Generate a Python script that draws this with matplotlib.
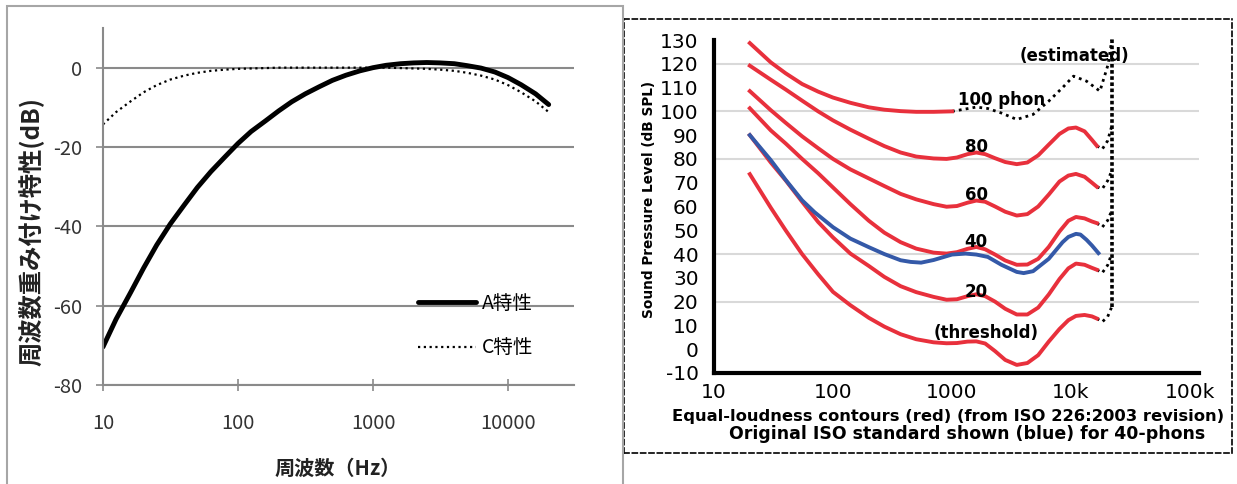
import matplotlib
matplotlib.use("Agg")
import matplotlib.pyplot as plt
from matplotlib.patches import Rectangle
from matplotlib.ticker import NullLocator

plt.rcParams['font.family'] = ['Noto Sans CJK JP', 'DejaVu Sans']

# ---- left chart: A / C frequency weighting (dB) ----
freq_w = [10, 12.5, 16, 20, 25, 31.5, 40, 50, 63, 80, 100, 125, 160, 200, 250, 315, 400, 500, 630, 800,
          1000, 1250, 1600, 2000, 2500, 3150, 4000, 5000, 6300, 8000, 10000, 12500, 16000, 20000]
a_weight = [-70.4, -63.4, -56.7, -50.5, -44.7, -39.4, -34.6, -30.2, -26.2, -22.5,
            -19.1, -16.1, -13.4, -10.9, -8.6, -6.6, -4.8, -3.2, -1.9, -0.8,
            0.0, 0.6, 1.0, 1.2, 1.3, 1.2, 1.0, 0.5, -0.1, -1.1,
            -2.5, -4.3, -6.6, -9.3]
c_weight = [-14.3, -11.2, -8.5, -6.2, -4.4, -3.0, -2.0, -1.3, -0.8, -0.5,
            -0.3, -0.2, -0.1, 0, 0, 0, 0, 0, 0, 0,
            0, 0, -0.1, -0.2, -0.3, -0.5, -0.8, -1.3, -2.0, -3.0,
            -4.4, -6.2, -8.5, -11.2]
w_labels = ["A特性", "C特性"]
w_xticks = [10, 100, 1000, 10000]
w_xticklabels = ["10", "100", "1000", "10000"]
w_yticks = [-80, -60, -40, -20, 0]
w_yticklabels = ["-80", "-60", "-40", "-20", "0"]

# ---- right chart: equal-loudness contours (dB SPL) ----
f_red = [20, 30, 40, 55, 75, 100, 140, 200, 270, 370, 500, 700, 900, 1100, 1350, 1600, 1900, 2300,
         2800, 3500, 4300, 5300, 6500, 8000, 9500, 11000, 13000, 15000, 16500]
phon_threshold = [73.6, 59.5, 50.0, 40.0, 31.5, 24.1, 18.5, 13.2, 9.5, 6.3, 4.2, 2.9, 2.5, 2.6, 3.2, 3.3,
                  2.4, -0.8, -4.5, -6.6, -5.8, -2.5, 3.2, 8.5, 12.2, 14.0, 14.4, 13.8, 12.9]
phon_20 = [90.0, 78.5, 71.0, 62.0, 53.5, 47.0, 40.2, 35.0, 30.4, 26.5, 24.0, 22.0, 20.8, 21.0, 22.3, 23.1,
           22.3, 20.0, 17.0, 14.6, 14.6, 17.5, 23.0, 29.5, 34.0, 36.0, 35.5, 34.2, 33.4]
phon_40 = [101.3, 92.0, 86.5, 80.0, 74.0, 68.0, 61.0, 54.0, 49.0, 45.0, 42.3, 40.6, 40.2, 40.8, 42.2, 43.0,
           42.0, 39.8, 37.3, 35.5, 35.6, 38.0, 43.0, 49.5, 54.0, 55.6, 55.0, 53.7, 53.0]
phon_60 = [108.5, 100.5, 95.2, 89.5, 84.5, 80.0, 75.6, 71.8, 68.6, 65.3, 63.0, 61.0, 59.9, 60.2, 61.6, 62.5,
           62.0, 60.0, 57.8, 56.2, 56.8, 60.0, 65.0, 70.5, 73.0, 73.7, 72.5, 70.0, 68.3]
phon_80 = [119.2, 113.3, 109.2, 104.5, 100.0, 96.2, 92.3, 88.5, 85.4, 82.7, 81.0, 80.2, 80.0, 80.6, 82.0, 82.7,
           82.0, 80.3, 78.7, 77.8, 78.5, 81.5, 86.0, 90.5, 92.8, 93.2, 91.6, 88.0, 85.5]
f_red100 = [20, 30, 40, 55, 75, 100, 140, 200, 270, 370, 500, 700, 1000]
phon_100 = [128.7, 120.6, 116.0, 111.5, 108.3, 105.8, 103.6, 101.7, 100.7, 100.1, 99.8, 99.8, 100.0]

# dotted "estimated" parts
f_est100 = [1000, 1300, 1600, 2000, 2600, 3500, 4800, 6500, 8500, 10500, 13500, 17500, 20500, 22000]
est_100 = [100.0, 101.0, 101.8, 101.2, 99.3, 96.6, 98.7, 104.3, 110.0, 114.8, 112.7, 108.5, 119.7, 130.0]
f_tail = [16500, 18300, 20300, 22000]
tail_threshold = [12.9, 11.5, 13.6, 17.8]
tail_20 = [33.4, 32.1, 35.3, 40.2]
tail_40 = [53.0, 51.3, 54.1, 58.3]
tail_60 = [68.3, 67.4, 70.8, 75.0]
tail_80 = [85.5, 84.1, 87.6, 93.8]
f_edge = [22000, 22000]
edge_db = [17.8, 131.0]

# original ISO 40 phon (blue)
f_blue = [20, 30, 40, 55, 70, 100, 140, 200, 270, 370, 450, 550, 700, 1000, 1300, 1600, 2000,
          2600, 3500, 4000, 4800, 6500, 8500, 9500, 11000, 12000, 13500, 15000, 17000]
orig_40 = [90.0, 79.5, 71.2, 62.6, 57.6, 51.3, 46.5, 42.9, 40.0, 37.4, 36.7, 36.4, 37.5, 39.8, 40.2, 39.8, 38.8,
           35.5, 32.5, 32.0, 32.8, 38.0, 45.0, 47.2, 48.5, 48.2, 46.0, 43.6, 40.4]

grid_levels = [20, 40, 80, 100, 120]
spl_xticks = [10, 100, 1000, 10000, 100000]
spl_xticklabels = ["10", "100", "1000", "10k", "100k"]
spl_yticks = list(range(-10, 131, 10))

W, H = 1237, 484
fig = plt.figure(figsize=(W / 100, H / 100), dpi=100)

# outer frame of left chart
fig.add_artist(Rectangle((7 / W, -0.1), (623 - 7) / W, 1.1 - 6 / H, transform=fig.transFigure,
                         fill=False, edgecolor='#a6a6a6', lw=1.5))

ax1 = fig.add_axes([103 / W, 1 - 385 / H, (574 - 103) / W, (385 - 28) / H])
ax1.set_xscale('log')
ax1.plot(freq_w, a_weight, color='black', lw=3.5, label=w_labels[0], solid_capstyle='round')
ax1.plot(freq_w, c_weight, color='black', lw=1.6, ls=(0, (1, 1.6)), label=w_labels[1])
ax1.set_xlim(10, 3.08e4)
ax1.set_ylim(-80, 10)
ax1.set_xticks(w_xticks)
ax1.set_xticklabels(w_xticklabels)
ax1.xaxis.set_minor_locator(NullLocator())
ax1.set_yticks(w_yticks)
ax1.set_yticklabels(w_yticklabels)
ax1.grid(axis='y', color='#8a8a8a', lw=1.5)
ax1.set_axisbelow(True)
for s in ['top', 'right']:
    ax1.spines[s].set_visible(False)
for s in ['left', 'bottom']:
    ax1.spines[s].set_color('#8a8a8a')
    ax1.spines[s].set_linewidth(1.5)
ax1.tick_params(axis='x', direction='inout', length=9, width=1.2, color='#8a8a8a',
                pad=16, labelsize=14.5, labelcolor='#333333')
ax1.tick_params(axis='y', direction='out', length=5, width=1.2, color='#8a8a8a',
                pad=10, labelsize=14.5, labelcolor='#333333')
ax1.legend(loc='upper left', bbox_to_anchor=(418 / W, 1 - 293 / H), bbox_transform=fig.transFigure,
           frameon=False, prop={'family': ['Noto Sans CJK JP'], 'size': 14},
           handlelength=3.0, handletextpad=0.3, labelspacing=1.2, borderpad=0, borderaxespad=0)
fig.text(31 / W, 1 - 232 / H, "周波数重み付け特性(dB)", rotation=90, ha='center', va='center',
         fontsize=17.5, fontweight='bold', color='#222222')
fig.text(338 / W, 1 - 468 / H, "周波数（Hz）", ha='center', va='center',
         fontsize=14.5, fontweight='bold', color='#222222')

# dashed frame of right chart
frame = fig.add_axes([624 / W, 1 - 453 / H, (1232 - 624) / W, (453 - 19) / H])
frame.set_facecolor('none')
frame.set_xticks([])
frame.set_yticks([])
for s in frame.spines.values():
    s.set_linestyle((0, (3, 2)))
    s.set_linewidth(1.2)
frame.text((672 - 624) / 608, (453 - 417) / 434,
           "Equal-loudness contours (red) (from ISO 226:2003 revision)",
           ha='left', va='center', fontsize=11.8, fontweight='bold', family='DejaVu Sans')
frame.text((729 - 624) / 608, (453 - 434) / 434,
           "Original ISO standard shown (blue) for 40-phons",
           ha='left', va='center', fontsize=12.5, fontweight='bold', family='DejaVu Sans')

ax2 = fig.add_axes([714 / W, 1 - 373 / H, (1199 - 714) / W, (373 - 40) / H])
ax2.set_facecolor('none')
ax2.set_xscale('log')
ax2.set_xlim(10, 1.19e5)
ax2.set_ylim(-10, 130)
for g in grid_levels:
    ax2.axhline(g, color='#d9d9d9', lw=1.5, zorder=0)

red = '#e8303c'
blue = '#3459a8'
for f, v in [(f_red, phon_threshold), (f_red, phon_20), (f_red, phon_40), (f_red, phon_60),
             (f_red, phon_80), (f_red100, phon_100)]:
    ax2.plot(f, v, color=red, lw=2.8, zorder=3, solid_joinstyle='round')
ax2.plot(f_blue, orig_40, color=blue, lw=2.8, zorder=4, solid_joinstyle='round')
for v in [tail_threshold, tail_20, tail_40, tail_60, tail_80]:
    ax2.plot(f_tail, v, color='black', lw=2, ls=(0, (1, 1.5)), zorder=2, clip_on=False)
ax2.plot(f_est100, est_100, color='black', lw=2, ls=(0, (1, 1.5)), zorder=2, clip_on=False)
ax2.plot(f_edge, edge_db, color='black', lw=2.6, ls=(0, (1, 0.7)), zorder=2, clip_on=False)

lbl = dict(fontsize=12, fontweight='bold', family='DejaVu Sans', ha='center', va='center', zorder=5)
ax2.text(1930, 6.8, "(threshold)", **lbl)
ax2.text(1600, 24.0, "20", **lbl)
ax2.text(1600, 44.9, "40", **lbl)
ax2.text(1600, 65.0, "60", **lbl)
ax2.text(1600, 85.1, "80", **lbl)
ax2.text(2630, 104.7, "100 phon", **lbl)
ax2.text(10600, 123.1, "(estimated)", **lbl)

ax2.set_xticks(spl_xticks)
ax2.set_xticklabels(spl_xticklabels)
ax2.xaxis.set_minor_locator(NullLocator())
ax2.set_yticks(spl_yticks)
ax2.set_yticklabels([str(v) for v in spl_yticks])
ax2.tick_params(length=0, labelsize=14.5, labelfontfamily='DejaVu Sans', labelcolor='black')
ax2.tick_params(axis='x', pad=7)
ax2.tick_params(axis='y', pad=11)
for s in ['top', 'right']:
    ax2.spines[s].set_visible(False)
for s in ['left', 'bottom']:
    ax2.spines[s].set_linewidth(3)
    ax2.spines[s].set_color('black')
fig.text(649 / W, 1 - 199 / H, "Sound Pressure Level (dB SPL)", rotation=90, ha='center', va='center',
         fontsize=9.8, fontweight='bold', family='DejaVu Sans')

fig.savefig("out.png", dpi=100)
